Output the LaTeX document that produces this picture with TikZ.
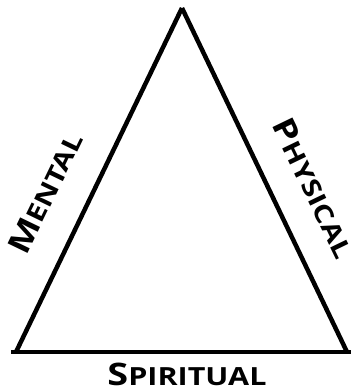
\documentclass[tikz,border=0pt]{standalone}
\usepackage{fontspec}
\setsansfont{Open Sans}
\usetikzlibrary{positioning, calc}
\newcommand{\capword}[2]{\scalebox{1.22}[1]{{\fontsize{31}{32}\selectfont #1}{\fontsize{25}{26}\selectfont #2}}}
\tikzset{
  every picture/.style={font=\sffamily\bfseries, line width=4.5pt},
  side/.style={draw=black, line width=4.5pt, line cap=butt},
  sidetext/.style={inner sep=0pt, anchor=center, text=black},
}

\begin{document}
\begin{tikzpicture}[x=1pt, y=-1pt]
  \useasboundingbox (0,0) rectangle (351,391);
  % corners of the triangle
  \coordinate (apex) at (182,8);
  \coordinate (bl) at (16,352);
  \coordinate (br) at (347,352);
  \coordinate (baseL) at (11,352);
  \coordinate (baseR) at (351,352);
  \draw[side] (bl) -- (apex);
  \draw[side] (br) -- (apex);
  \draw[side] (baseL) -- (baseR);
  \node[sidetext, rotate=64.2] (mental) at (45,193) {\capword{M}{ENTAL}};
  \node[sidetext, rotate=-64.2] (physical) at (314,188) {\capword{P}{HYSICAL}};
  \node[sidetext] (spiritual) at (187,374) {\capword{S}{PIRITUAL}};
\end{tikzpicture}
\end{document}
